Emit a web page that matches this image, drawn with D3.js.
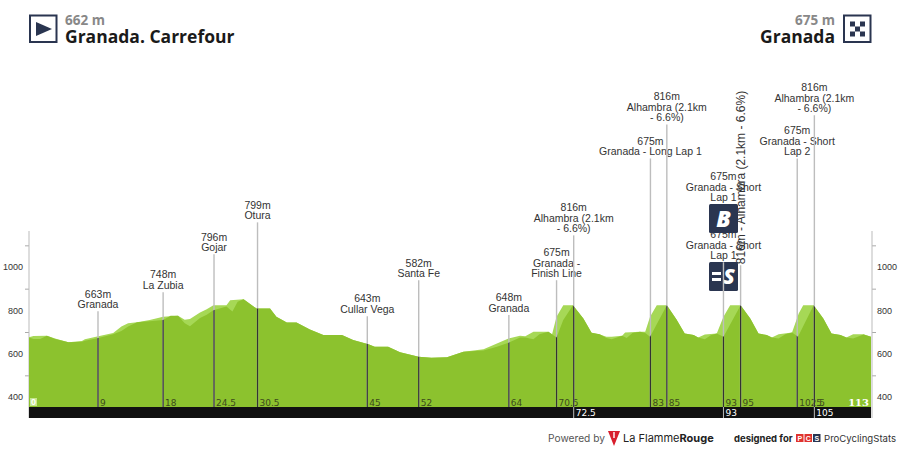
<!DOCTYPE html>
<html><head><meta charset="utf-8">
<script src="https://cdn.jsdelivr.net/npm/d3@7/dist/d3.min.js"></script>
<style>html,body{margin:0;padding:0;background:#fff}svg{display:block}text{font-family:"Liberation Sans",sans-serif}</style>
</head><body><svg id="c" width="900" height="450"></svg>
<script>
const lightProfile=[[0,676],[0.6,682],[2.4,683],[3.5,670],[5.3,653],[7.1,658],[7.5,667],[9.3,680],[11.3,695],[12.4,725],[13.3,740],[14.5,745],[16.2,755],[18,770],[20,775],[20.9,757],[21.6,760],[22.95,790],[23.85,805],[24.75,824],[26.5,824],[27,847],[28.8,851],[30.55,808],[32.35,808],[33.2,770],[34.6,744],[35.9,744],[37.7,712],[39.5,686],[42,686],[43.5,663],[45.55,644],[46.4,632],[48.2,632],[49.8,606],[52.3,586],[54,581],[56.1,584],[58.3,609],[61,620],[62.8,647],[64.35,670],[65.9,683],[66.6,680],[67.7,701],[69.7,701],[70.2,690],[70.8,770],[71.7,824],[73,824],[74.4,762],[75.5,697],[76.6,689],[77.5,678],[78.2,678],[79.6,683],[80,698],[82,701],[82.7,701],[83.35,770],[84.25,824],[85.6,824],[86.9,758],[88,693],[89.2,686],[89.8,675],[90.7,689],[92.3,693],[93.2,770],[94.1,824],[95.5,824],[96.8,762],[97.9,693],[99,686],[99.7,675],[100.6,690],[102.4,698],[103.3,785],[103.9,824],[105.3,824],[106.6,762],[107.7,693],[108.9,686],[109.7,675],[110.6,690],[112,690],[113,678]];
const darkProfile=[[0,675],[0.6,668],[1.5,668],[2.4,683],[3.5,668],[5.3,653],[7.1,655],[7.5,660],[9.3,672],[11.3,690],[12.4,705],[13.3,725],[14.5,745],[16.2,750],[18,755],[19,775],[20,775],[20.9,740],[21.6,727],[22.95,765],[23.85,780],[24.75,800],[26.5,818],[27.3,795],[28,840],[28.8,851],[30.55,808],[32.35,808],[33.2,770],[34.6,744],[35.9,744],[37.7,712],[39.5,686],[42,686],[43.5,663],[45.55,644],[46.4,632],[48.2,632],[49.8,606],[52.3,586],[54,581],[56.1,584],[58.3,609],[61,615],[62.8,632],[64.35,650],[65.9,675],[66.6,675],[67.7,667],[68.5,690],[69.7,701],[70.8,675],[71.7,755],[73,824],[74.4,762],[75.5,697],[76.6,690],[77.5,672],[78.2,667],[79.6,683],[80.2,672],[81,695],[82,701],[82.7,695],[83.35,678],[85.6,824],[86.9,758],[88,693],[89.2,686],[89.8,675],[90.7,667],[91.5,685],[92.3,693],[93.2,678],[95.5,824],[96.8,762],[97.9,693],[99,686],[99.7,675],[100.6,670],[101.5,690],[102.4,698],[103.2,678],[105.3,824],[106.6,762],[107.7,693],[108.9,686],[109.7,675],[110.6,670],[112,688],[113,678]];
const markerKm=[9.26,18,24.83,30.67,45.4,52.3,64.4,70.8,73.1,83.4,85.6,93.2,93.2,95.5,103.1,105.4];
const markerTopM=[796,884,1059,1206,773,939,778,939,1146,1501,1658,1289,1022,1008,1501,1700];
const markerKmLabels=["9","18","24.5","30.5","45","52","64","70.5","","83","85","93","","95","102.5","5"];
const markerText=[["663m","Granada"],["748m","La Zubia"],["796m","Gojar"],["799m","Otura"],["643m","Cullar Vega"],["582m","Santa Fe"],["648m","Granada"],["675m","Granada -","Finish Line"],["816m","Alhambra (2.1km","- 6.6%)"],["675m","Granada - Long Lap 1"],["816m","Alhambra (2.1km","- 6.6%)"],["675m","Granada - Short","Lap 1"],["675m","Granada - Short","Lap 1"],["816m - Alhambra (2.1km - 6.6%)"],["675m","Granada - Short","Lap 2"],["816m","Alhambra (2.1km","- 6.6%)"]];
const barKm=[73.1,93.2,105.4];
const barKmLabels=["72.5","93","105"];
const yTicks=[400,500,600,700,800,900,1000,1100];
const yLabels=[400,600,800,1000];
const startAlt="662 m",startName="Granada. Carrefour",endAlt="675 m",endName="Granada";

const svg=d3.select("#c");
const x=d3.scaleLinear().domain([0,113]).range([29,871]);
const y=d3.scaleLinear().domain([400,1000]).range([397,267]);
const yBase=407,barBottom=418,axisTop=231;
const navy="#2a3550";
const area=d3.area().x(d=>x(d[0])).y0(yBase).y1(d=>y(d[1]));

svg.append("clipPath").attr("id","dk").append("path").attr("d",area(darkProfile));
// axes
const fmt=d=>yLabels.includes(d)?d:"";
[[d3.axisLeft,29,2],[d3.axisRight,872,1]].forEach(([ax,px,pad])=>{
  const g=svg.append("g").attr("transform",`translate(${px},0)`).call(ax(y).tickValues(yTicks).tickFormat(fmt).tickSize(4).tickPadding(pad).tickSizeOuter(0));
  g.select(".domain").remove();
  g.selectAll("line").attr("stroke",d=>yLabels.includes(d)?"none":"#aaa");
  g.selectAll("text").attr("fill","#333").style("font-size","9px");
  g.append("line").attr("y1",axisTop).attr("y2",barBottom).attr("stroke","#bbb");
});
// profile
svg.append("path").attr("d",area(lightProfile)).attr("fill","#a6d856");
svg.append("path").attr("d",area(darkProfile)).attr("fill","#8cc22e");
// bar
svg.append("rect").attr("x",x(0)).attr("y",yBase).attr("width",x(113)-x(0)).attr("height",barBottom-yBase).attr("fill","#111");
// km labels
svg.selectAll(".km").data(markerKm).join("text").attr("x",d=>x(d)+2).attr("y",yBase-1.5)
  .text((d,i)=>markerKmLabels[i]).attr("fill","#3c4a1c").style("font-size","9px").style("font-family","'DejaVu Sans',sans-serif");
svg.append("rect").attr("x",x(0)+1).attr("y",yBase-9).attr("width",7).attr("height",8).attr("fill","#c4e58c");
svg.append("text").attr("x",x(0)+2).attr("y",yBase-2).text("0").attr("fill","#fff").style("font-size","9px").style("font-weight","700");
svg.append("text").attr("x",x(113)-2).attr("y",yBase-1.5).attr("text-anchor","end").text("113").attr("fill","#fff").style("font-size","10px").style("font-weight","700").style("font-family","'DejaVu Serif',serif");
// marker labels
const lh=10.7;
markerKm.forEach((k,i)=>{
  const lines=markerText[i],top=y(markerTopM[i]);
  if(lines.length===1){
    svg.append("text").attr("transform",`translate(${x(k)+4},${top-1}) rotate(-90)`).text(lines[0]).attr("fill","#333").style("font-size","12px");
    return;
  }
  lines.forEach((t,j)=>svg.append("text").attr("x",x(k)).attr("y",top-3-(lines.length-1-j)*lh).attr("text-anchor","middle").text(t).attr("fill","#333").style("font-size","10.5px"));
});
// stems
function stem(k,top,bottom){
  svg.append("line").attr("x1",x(k)).attr("x2",x(k)).attr("y1",top).attr("y2",bottom).attr("stroke","#bdbdbd").attr("stroke-width",1.4);
  svg.append("line").attr("x1",x(k)).attr("x2",x(k)).attr("y1",top).attr("y2",bottom).attr("stroke","#333").attr("stroke-width",1.2).attr("clip-path","url(#dk)");
}
markerKm.forEach((k,i)=>{ if(i!==11&&i!==12) stem(k,y(markerTopM[i]),yBase); });
barKm.forEach((k,i)=>{
  svg.append("line").attr("x1",x(k)).attr("x2",x(k)).attr("y1",yBase).attr("y2",barBottom).attr("stroke","#bbb");
  svg.append("text").attr("x",x(k)+2).attr("y",barBottom-2).text(barKmLabels[i]).attr("fill","#fff").style("font-size","9px").style("font-family","'DejaVu Sans',sans-serif");
});
// climb & sprint icons
function badge(px,py,draw){
  const g=svg.append("g").attr("transform",`translate(${px},${py})`);
  g.append("rect").attr("width",29).attr("height",29).attr("rx",1.5).attr("fill",navy);
  draw(g);
}
const glyph=(g,t,tx,ty,s)=>g.append("text").attr("x",tx).attr("y",ty).attr("text-anchor","middle").text(t).attr("fill","#fff").style("font-size",s+"px").style("font-weight","800").style("font-style","italic").style("font-family","'Open Sans',sans-serif");
badge(709,204,g=>glyph(g,"B",14.5,23,23));
badge(709,262,g=>{
  glyph(g,"S",20,22,21);
  [10,16].forEach(v=>g.append("rect").attr("x",3).attr("y",v).attr("width",9).attr("height",3).attr("fill","#fff"));
});
stem(93.2,y(markerTopM[12]),yBase);
// header
const head=(tx,anc,alt,name)=>{
  svg.append("text").attr("x",tx).attr("y",25).attr("text-anchor",anc).text(alt).attr("fill","#888").style("font-size","13.5px").style("font-weight","700").style("font-family","'Open Sans',sans-serif");
  svg.append("text").attr("x",tx).attr("y",43).attr("text-anchor",anc).text(name).attr("fill","#1a1a1a").style("font-size","17.5px").style("font-weight","700").style("font-family","'Open Sans',sans-serif");
};
head(65,"start",startAlt,startName);
head(835,"end",endAlt,endName);
svg.append("rect").attr("x",30).attr("y",15.5).attr("width",26.5).attr("height",26.5).attr("fill","none").attr("stroke",navy).attr("stroke-width",2);
svg.append("path").attr("d",d3.line()([[36,22],[52,29],[36,36]])+"Z").attr("fill",navy);
svg.append("rect").attr("x",844).attr("y",15.5).attr("width",26.5).attr("height",26.5).attr("fill","none").attr("stroke",navy).attr("stroke-width",2);
[0,1,2].forEach(r=>[0,1,2].forEach(c=>{ if((r+c)%2===0) svg.append("rect").attr("x",850+c*5).attr("y",21.5+r*5).attr("width",5).attr("height",5).attr("fill",navy); }));
// footer
svg.append("text").attr("x",548).attr("y",442).text("Powered by").attr("fill","#555").style("font-size","10.2px").style("font-family","Inter,sans-serif");
svg.append("path").attr("d",d3.line()([[608,431],[620,431],[614,446]])+"Z").attr("fill","#d81e2c");
svg.append("rect").attr("x",613.3).attr("y",432).attr("width",1.4).attr("height",6).attr("fill","#fff");
const lf=svg.append("text").attr("x",623).attr("y",442).attr("fill","#222").style("font-size","11px").style("font-family","Inter,sans-serif");
lf.append("tspan").text("La Flamme");lf.append("tspan").text("Rouge").style("font-weight","700");
svg.append("text").attr("x",734).attr("y",442).text("designed for").attr("fill","#222").style("font-size","9.5px").style("font-weight","700").style("font-family","Inter,sans-serif");
[["P","#e0332e",796],["C","#e0332e",804.5],["S","#2a3550",813]].forEach(([t,c,px])=>{
  svg.append("rect").attr("x",px).attr("y",434).attr("width",7.5).attr("height",8).attr("fill",c);
  svg.append("text").attr("x",px+3.75).attr("y",441).attr("text-anchor","middle").text(t).attr("fill","#fff").style("font-size","7px").style("font-weight","700");
});
svg.append("text").attr("x",824).attr("y",442).text("ProCyclingStats").attr("fill","#333").style("font-size","9.6px").style("font-family","Inter,sans-serif");
</script></body></html>
